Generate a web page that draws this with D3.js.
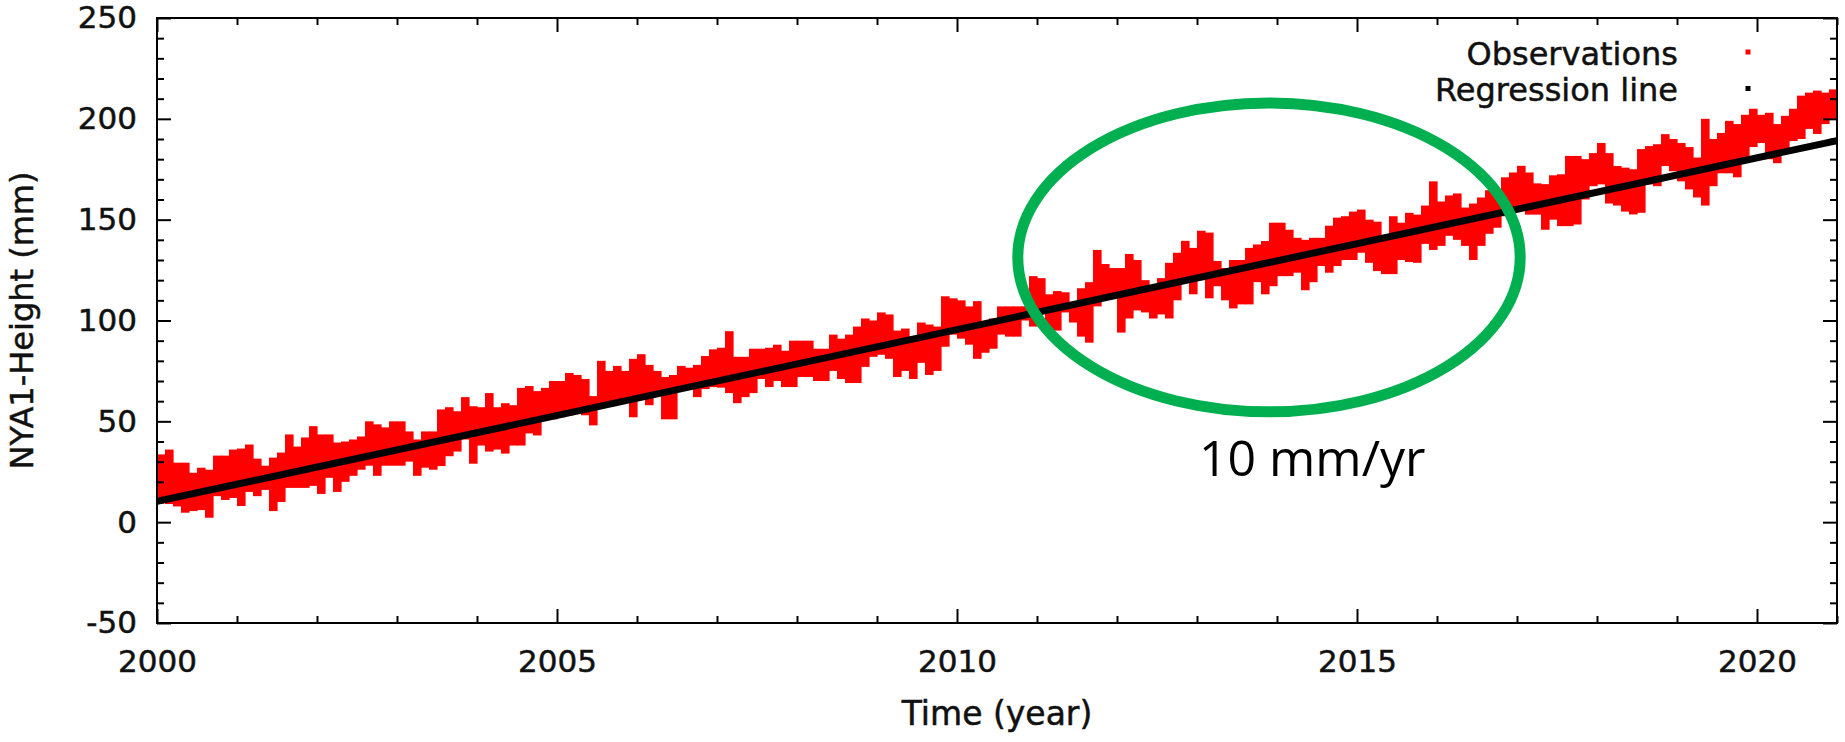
<!DOCTYPE html>
<html>
<head>
<meta charset="utf-8">
<script src="https://cdn.jsdelivr.net/npm/d3@7"></script>
<style>
  body { margin: 0; background: #fff; }
  svg text.gp { font-family: "DejaVu Sans", sans-serif; fill: #111; stroke: #111; stroke-width: 0.5px; }
</style>
</head>
<body>
<svg id="chart" width="1845" height="742"></svg>
<script>
'use strict';

// NYA1 height observations, read off the plot as a band:
// one column per 0.1 yr starting at 2000.0, top and bottom of the red cloud (mm)
const obsHigh = [
  33.6, 36, 29.5, 29.5, 24.5, 27, 26, 33, 33, 36,
  36.5, 38.5, 31.5, 28, 32, 34.5, 43.5, 37.5, 42, 47.6,
  43.5, 43.5, 39.5, 40, 41, 42.5, 50, 48.5, 47, 50,
  50, 45, 41, 45, 45,
  55.9, 57, 55, 62, 57.5, 57, 64, 57, 59, 58,
  66.6, 67.5, 65, 66.6, 70, 70, 74, 73, 71, 62.5,
  80, 75, 77.5, 75, 81, 83.3, 78, 75, 72, 73,
  77.5, 76.6, 78, 82.4, 85.7,
  86.5, 94.7, 82, 82, 86, 86, 86.5, 88, 85, 90,
  90, 90, 86, 86, 93, 91, 93, 97, 101, 100,
  104, 103, 95, 96, 92, 99, 98, 97, 112, 111,
  110, 107, 109.6, 99, 101,
  107, 107, 107, 107, 122, 121, 113, 114.6, 114, 109,
  116, 119, 135, 128, 126, 126, 133, 130, 120, 117,
  121, 128.6, 133.6, 139.5, 136, 144.5, 143.6, 129.5, 126, 130,
  130, 136, 137.7, 139.4, 148.5,
  148.5, 145, 141, 140, 141, 141, 147, 151, 151.7, 154,
  155, 150, 149, 142, 151.7, 148.5, 153.4, 152.5, 157, 169,
  159, 162, 163, 156, 158, 161, 164.6, 163, 171, 173.4,
  176.7, 173.4, 168, 167.6, 172,
  172.5, 181.6, 181.6, 180, 183, 188, 183, 176.6, 175.8, 175,
  185, 186.5, 187.4, 192.4, 190, 188, 186, 180.8, 200, 190,
  193, 199, 197.4, 202, 205, 202, 203, 197.4, 201.5, 205,
  211.5, 213, 214, 213, 214.6
];
const obsLow = [
  9.8, 9, 7.8, 4.7, 5.5, 6, 2.2, 12.9, 11, 12,
  8, 15, 12.9, 16, 5.5, 10, 17, 17, 17, 18,
  14, 22, 15, 20, 23, 26, 28, 23, 28, 28,
  28, 30, 23, 27, 26,
  27.8, 32.7, 35, 41, 29, 38, 35, 36, 34, 38,
  38, 44, 43, 52, 51, 52, 53, 55, 53, 48,
  58, 59, 60, 61, 52, 61, 58, 64, 51, 51,
  66, 66, 62, 66, 67,
  66.7, 64, 59, 62, 64, 71, 67, 70, 67, 67,
  72, 72, 70, 70, 75, 71, 69, 69, 77, 82,
  83, 81, 72, 75, 71, 79, 73, 75, 87, 93,
  91, 88, 81, 84, 86,
  93, 92, 92, 100, 97, 105, 94, 95, 104, 99,
  92, 89, 107, 112, 112, 94, 101, 105, 104, 101,
  103, 101, 110, 119, 113, 120, 111, 117, 110, 106,
  108, 108, 119, 113, 117,
  122, 122, 123.7, 115, 119, 127, 123.7, 127, 130, 130,
  133.6, 128.6, 124.5, 123, 123, 130, 129, 128.6, 138, 135,
  137, 142, 140, 137, 130, 137, 143, 146, 151.7, 153.4,
  156, 152.5, 152.5, 145, 150,
  146.8, 146.8, 147.6, 160, 166.6, 167.5, 158, 157, 154, 152.6,
  153.4, 167.5, 166.6, 176.6, 174, 169, 165, 161, 157, 166.6,
  173, 173, 171, 180, 186, 188, 180, 178, 185, 189,
  190, 195, 192.5, 197.4, 200
];
const obsStart = 2000;
const obsStep = 0.1;

const regressionYears = [2000, 2021];
const regressionHeights = [10.3, 189.2];

const xTicks = [2000, 2005, 2010, 2015, 2020];
const xMinorTicks = [2001, 2002, 2003, 2004, 2006, 2007, 2008, 2009, 2011, 2012,
  2013, 2014, 2016, 2017, 2018, 2019, 2021];
const yTicks = [-50, 0, 50, 100, 150, 200, 250];
const yMinorTicks = [-40, -30, -20, -10, 10, 20, 30, 40, 60, 70, 80, 90, 110, 120,
  130, 140, 160, 170, 180, 190, 210, 220, 230, 240];

const legendLabels = ["Observations", "Regression line"];
const legendColors = ["#ff0000", "#000000"];

// annotation ellipse (centre and radii in year / mm) and the rate label
const ellipseCentre = [2013.9, 131.3];
const ellipseRadii = [3.14, 76.6];
const rateLabel = "10 mm/yr";
const rateLabelAt = [2014.44, 22.7];

const margin = {top: 18, right: 8, bottom: 119, left: 157};
const width = 1845 - margin.left - margin.right;
const height = 742 - margin.top - margin.bottom;

const svg = d3.select("#chart");
const g = svg.append("g").attr("transform", `translate(${margin.left},${margin.top})`);

const x = d3.scaleLinear().domain([2000, 2021]).range([0, width]);
const y = d3.scaleLinear().domain([-50, 250]).range([height, 0]);

g.append("clipPath").attr("id", "plotClip")
  .append("rect").attr("width", width).attr("height", height);

const plot = g.append("g").attr("clip-path", "url(#plotClip)");

// observations drawn as range columns
const obs = obsHigh.map(function(hi, i) {
  return {t: obsStart + i * obsStep, hi: hi, lo: obsLow[i]};
});

plot.append("g")
  .selectAll("rect")
  .data(obs)
  .enter().append("rect")
    .attr("x", d => x(d.t))
    .attr("width", d => x(d.t + obsStep) - x(d.t) + 0.6)
    .attr("y", d => y(d.hi))
    .attr("height", d => y(d.lo) - y(d.hi))
    .attr("fill", legendColors[0]);

// regression line
const line = d3.line().x(d => x(d[0])).y(d => y(d[1]));
plot.append("path")
  .datum(regressionYears.map((t, i) => [t, regressionHeights[i]]))
  .attr("d", line)
  .attr("fill", "none")
  .attr("stroke", legendColors[1])
  .attr("stroke-width", 7);

// axes: major/minor ticks pointing inward on all four sides
function styleAxis(sel) {
  sel.select(".domain").remove();
  sel.selectAll(".tick line").attr("stroke", "#000").attr("stroke-width", 2);
  sel.attr("font-family", null).attr("font-size", 31);
  sel.selectAll(".tick text").attr("class", "gp").attr("fill", null);
}

// plain hyphen for negatives, like the original
const plain = d => String(d);

g.append("g").attr("transform", `translate(0,${height})`)
  .call(d3.axisBottom(x).tickValues(xTicks).tickFormat(plain)
    .tickSizeInner(-14).tickSizeOuter(0).tickPadding(27))
  .call(styleAxis);
g.append("g").attr("transform", `translate(0,${height})`)
  .call(d3.axisBottom(x).tickValues(xMinorTicks).tickFormat("").tickSizeInner(-7).tickSizeOuter(0))
  .call(styleAxis);
g.append("g")
  .call(d3.axisTop(x).tickValues(xTicks).tickFormat("").tickSizeInner(-14).tickSizeOuter(0))
  .call(styleAxis);
g.append("g")
  .call(d3.axisTop(x).tickValues(xMinorTicks).tickFormat("").tickSizeInner(-7).tickSizeOuter(0))
  .call(styleAxis);

g.append("g")
  .call(d3.axisLeft(y).tickValues(yTicks).tickFormat(plain)
    .tickSizeInner(-14).tickSizeOuter(0).tickPadding(20))
  .call(styleAxis);
g.append("g")
  .call(d3.axisLeft(y).tickValues(yMinorTicks).tickFormat("").tickSizeInner(-7).tickSizeOuter(0))
  .call(styleAxis);
g.append("g").attr("transform", `translate(${width},0)`)
  .call(d3.axisRight(y).tickValues(yTicks).tickFormat("").tickSizeInner(-14).tickSizeOuter(0))
  .call(styleAxis);
g.append("g").attr("transform", `translate(${width},0)`)
  .call(d3.axisRight(y).tickValues(yMinorTicks).tickFormat("").tickSizeInner(-7).tickSizeOuter(0))
  .call(styleAxis);

g.append("rect")
  .attr("width", width).attr("height", height)
  .attr("fill", "none").attr("stroke", "#000").attr("stroke-width", 2);

// axis titles
svg.append("text").attr("class", "gp")
  .attr("x", margin.left + width / 2).attr("y", 725)
  .attr("text-anchor", "middle").attr("font-size", 33)
  .text("Time (year)");

svg.append("text").attr("class", "gp")
  .attr("transform", `translate(33,${margin.top + height / 2}) rotate(-90)`)
  .attr("text-anchor", "middle").attr("font-size", 32)
  .text("NYA1-Height (mm)");

// legend
const legend = svg.append("g");
legendLabels.forEach(function(label, i) {
  legend.append("text").attr("class", "gp")
    .attr("x", 1678).attr("y", 65 + i * 35.5)
    .attr("text-anchor", "end").attr("font-size", 32)
    .text(label);
  legend.append("rect")
    .attr("x", 1745.5).attr("y", 49.5 + i * 36.5)
    .attr("width", 5).attr("height", 5)
    .attr("fill", legendColors[i]);
});

// annotation
g.append("ellipse")
  .attr("cx", x(ellipseCentre[0]))
  .attr("cy", y(ellipseCentre[1]))
  .attr("rx", x(ellipseCentre[0] + ellipseRadii[0]) - x(ellipseCentre[0]))
  .attr("ry", y(ellipseCentre[1]) - y(ellipseCentre[1] + ellipseRadii[1]))
  .attr("fill", "none")
  .attr("stroke", "#00b050")
  .attr("stroke-width", 11);

g.append("text")
  .attr("x", x(rateLabelAt[0])).attr("y", y(rateLabelAt[1]))
  .attr("text-anchor", "middle")
  .style("font-family", "'Open Sans', sans-serif")
  .style("font-size", "50px")
  .style("fill", "#000")
  .text(rateLabel);
</script>
</body>
</html>
